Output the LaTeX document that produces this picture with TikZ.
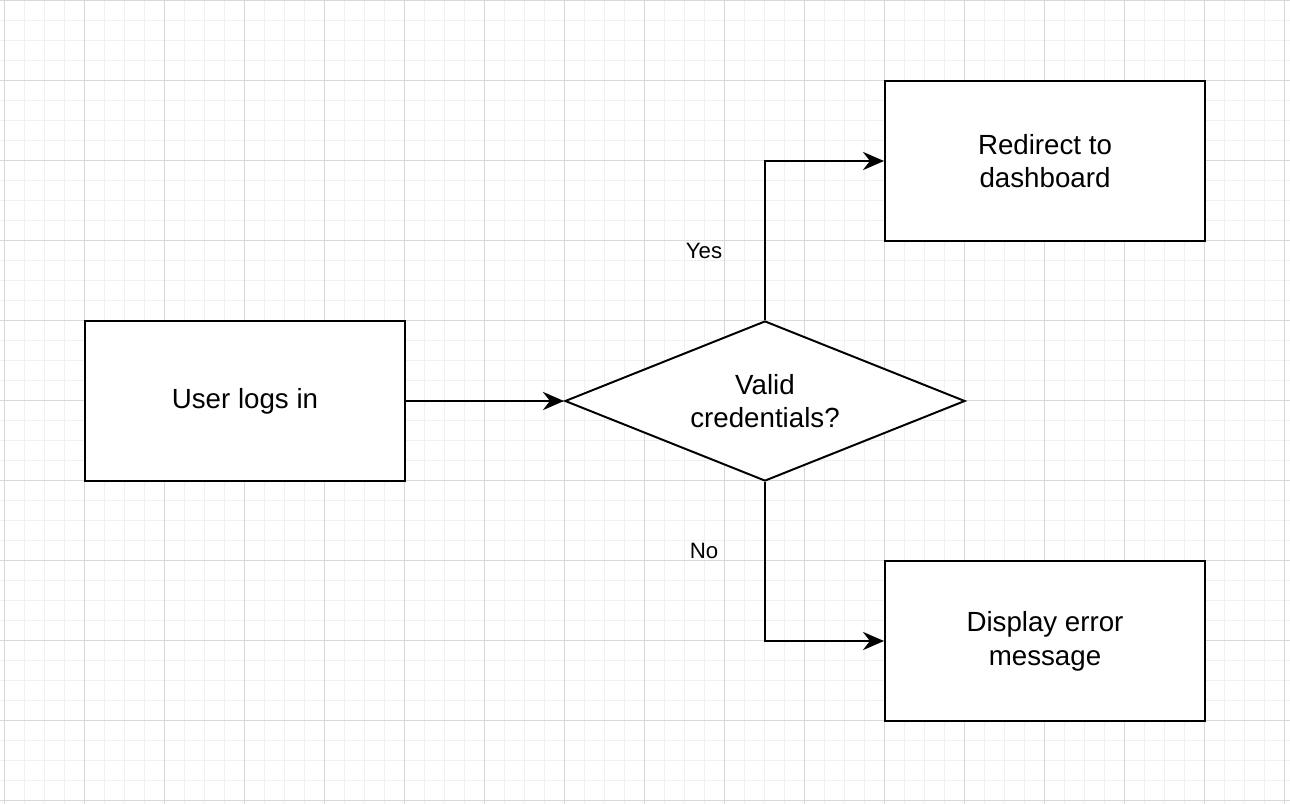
\documentclass[tikz,border=0pt]{standalone}
\usepackage{fontspec}
\setmainfont{Liberation Sans}
\usetikzlibrary{arrows.meta, positioning, shapes.geometric}
\definecolor{gridminor}{HTML}{F0F0F0}
\definecolor{gridmajor}{HTML}{D8D8D8}

\begin{document}
\begin{tikzpicture}[
  x=0.025cm, y=-0.025cm,
  stepbox/.style={rectangle, draw=black, fill=white, line width=1.4pt, minimum width=8cm, minimum height=4cm, font=\fontsize{19.7}{24}\selectfont, align=center},
  decision/.style={diamond, draw=black, fill=white, line width=1.4pt, minimum width=10cm, minimum height=4cm, inner sep=0pt, aspect=2.5, font=\fontsize{19.7}{24}\selectfont, align=center},
  arr/.style={-{Stealth[length=15pt, width=13pt, inset=5pt]}, line width=1.4pt, black},
  lbl/.style={font=\fontsize{15.8}{18}\selectfont},
]
  \useasboundingbox (0,0) rectangle (1290,804);
  \fill[white] (0,0) rectangle (1290,804);

  % Grid
  \foreach \gx in {4,24,...,1284} \draw[gridminor, line width=0.6pt] (\gx,0) -- (\gx,804);
  \foreach \gy in {0,20,...,800} \draw[gridminor, line width=0.6pt] (0,\gy) -- (1290,\gy);
  \foreach \gx in {4,84,...,1284} \draw[gridmajor, line width=0.6pt] (\gx,0) -- (\gx,804);
  \foreach \gy in {0,80,...,800} \draw[gridmajor, line width=0.6pt] (0,\gy) -- (1290,\gy);

  % Steps
  \node[stepbox] (login) at (245, 401) {User logs in};
  \node[decision] (valid) at (765, 401) {Valid\\credentials?};
  \node[stepbox] (redirect) at (1045, 161) {Redirect to\\dashboard};
  \node[stepbox] (error) at (1045, 641) {Display error\\message};

  % Labels
  \node[lbl] (yes) at (704, 251) {Yes};
  \node[lbl] (no) at (704, 551) {No};

  % Arrows
  \draw[arr] (login) -- (valid);
  \draw[arr] (valid.north) |- (redirect.west);
  \draw[arr] (valid.south) |- (error.west);
\end{tikzpicture}
\end{document}
